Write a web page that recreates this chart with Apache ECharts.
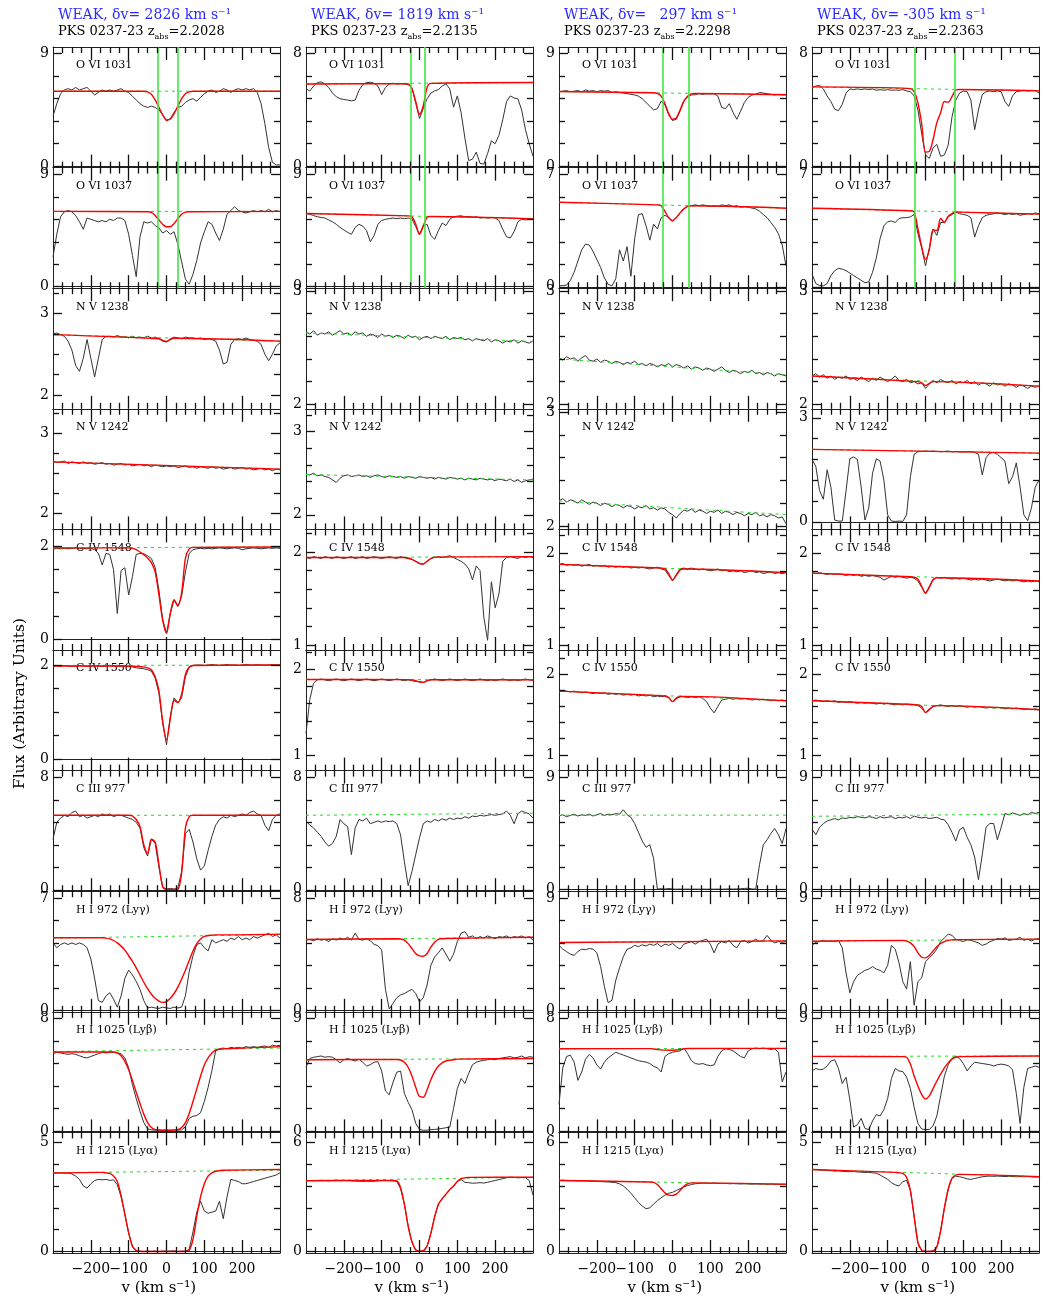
<!DOCTYPE html>
<html>
<head>
<meta charset="utf-8">
<script src="https://cdn.jsdelivr.net/npm/echarts@6/dist/echarts.min.js"></script>
<style>
  html, body { margin: 0; background: #fff; }
  #main { width: 1063px; height: 1315px; }
</style>
</head>
<body>
<div id="main"></div>
<script>
// velocity grid (km/s)
var vel = [-300,-290,-280,-270,-260,-250,-240,-230,-220,-210,-200,-190,-180,-170,-160,-150,-140,-130,-120,-110,
  -100,-90,-80,-70,-60,-50,-40,-30,-20,-10,0,10,20,30,40,50,60,70,80,90,100,
  110,120,130,140,150,160,170,180,190,200,210,220,230,240,250,260,270,280,290,300];

var lineNames = ['O VI 1031', 'O VI 1037', 'N V 1238', 'N V 1242', 'C IV 1548', 'C IV 1550',
  'C III 977', 'H I 972 (Lyγ)', 'H I 1025 (Lyβ)', 'H I 1215 (Lyα)'];
var deltaV = ['2826', '1819', '  297', '-305'];
var zAbs = ['2.2028', '2.2135', '2.2298', '2.2363'];
var cutLines = [[-24, 29], [-22, 15], [-25, 42], [-29, 78]];
var xMinorTicks = [-275,-250,-225,-175,-150,-125,-75,-50,-25,25,50,75,125,150,175,225,250,275];
var xMajorTicks = [-200,-100,0,100,200];

// ---------- column 1 : z = 2.2028 ----------
var c1_o6a = [4.0,5.0,5.8,6.1,6.2,6.1,6.3,6.1,6.2,6.3, 6.0,5.7,5.9,6.1,6.0,6.1,6.0,6.1,6.2,6.0,
  5.9,5.6,5.3,5.0,4.8,4.7,4.8,4.7,4.5,4.1, 3.6, 3.8,4.3,4.7,4.8,5.1,5.3,5.4,5.2,5.5,5.8,
  6.0,6.1,5.9,6.0,6.2,6.1,5.9,6.1,6.2,6.1, 6.2,6.1,6.2,5.9,5.0,3.4,1.5,0.3,0.1,0.1];
var c1_o6b = [2.4,4.2,5.6,6.0,6.1,6.0,5.7,5.2,4.6,5.5, 5.4,5.3,5.2,5.3,5.2,5.4,5.3,5.5,5.5,5.3,
  4.2,2.5,0.8,4.0,5.2,5.1,5.2,4.9,4.7,4.3, 4.5, 4.2,4.4,3.4,2.0,0.6,0.2,1.0,2.1,3.5,4.4,
  5.2,5.0,4.3,3.7,4.6,5.8,6.1,6.4,6.1,6.0, 5.9,6.0,6.1,6.0,6.1,6.0,6.2,6.0,6.1,6.0];
var c1_n5a = [2.75,2.76,2.74,2.72,2.66,2.55,2.36,2.29,2.45,2.68, 2.45,2.22,2.45,2.68,2.72,2.72,2.71,2.73,2.71,2.72,
  2.70,2.72,2.70,2.71,2.70,2.72,2.70,2.71,2.69,2.66, 2.65, 2.69,2.71,2.70,2.69,2.71,2.70,2.70,2.69,2.70,2.68,
  2.69,2.68,2.66,2.55,2.38,2.40,2.62,2.68,2.69,2.68, 2.70,2.68,2.67,2.66,2.62,2.50,2.42,2.50,2.60,2.64];
var c1_n5b = [2.65,2.63,2.64,2.65,2.62,2.64,2.63,2.62,2.64,2.62, 2.63,2.61,2.62,2.63,2.61,2.62,2.60,2.61,2.62,2.60,
  2.61,2.59,2.60,2.61,2.59,2.60,2.58,2.60,2.59,2.58, 2.59, 2.58,2.59,2.57,2.58,2.59,2.57,2.58,2.56,2.58,2.57,
  2.56,2.58,2.56,2.57,2.55,2.56,2.57,2.55,2.56,2.57, 2.55,2.56,2.54,2.55,2.56,2.54,2.55,2.53,2.55,2.54];
var c1_c4a = [1.94,1.96,1.95,1.96,1.95,1.96,1.97,1.95,1.96,1.95, 1.96,1.93,1.85,1.6,1.85,1.83,1.5,0.55,1.48,1.54,
  0.95,1.35,1.83,1.85,1.84,1.8,1.74,1.55,1.05,0.42, 0.12, 0.55,0.84,0.7,0.92,1.45,1.85,1.93,1.95,1.96,1.95,
  1.96,1.95,1.96,1.97,1.96,1.95,1.96,1.97,1.96,1.93, 1.95,1.96,1.97,1.96,1.95,1.96,1.97,1.96,1.97,1.96];
var c1_c4b = [1.98,1.99,1.98,1.99,1.98,1.97,1.98,1.99,1.98,1.97, 1.98,1.99,1.98,1.97,1.98,1.99,1.98,1.97,1.98,1.97,
  1.97,1.96,1.94,1.93,1.92,1.9,1.87,1.72,1.4,0.75, 0.3, 0.9,1.3,1.2,1.3,1.75,1.95,1.99,2.0,2.0,1.99,
  2.0,2.01,2.0,1.99,2.0,2.01,2.0,2.0,1.99,2.0, 2.01,2.0,2.0,2.01,2.0,1.99,2.0,2.01,2.0,2.0];
var c1_c3 = [3.6,4.8,5.1,5.3,5.2,5.5,5.6,5.2,5.3,5.1, 5.2,5.3,5.2,5.4,5.3,5.4,5.2,5.3,5.3,5.2,
  5.1,5.0,4.8,4.4,3.0,2.4,3.6,3.3,1.6,0.2, 0.05, 0.1,0.05,0.12,1.3,4.0,4.3,3.4,2.2,1.4,1.7,
  2.8,3.8,4.6,5.0,5.2,5.1,5.3,5.2,5.3,5.4, 5.3,5.5,5.6,5.4,5.3,4.6,4.2,5.0,5.3,5.4];
var c1_lyg = [4.2,3.9,4.1,4.2,4.1,4.2,4.1,4.2,4.1,3.9, 3.2,2.0,0.6,0.5,0.9,1.1,0.7,0.2,0.9,2.0,
  2.5,2.2,1.8,1.3,0.6,0.15,0.2,0.15,0.12,0.2, 0.15, 0.12,0.2,0.15,0.2,0.9,2.4,3.4,4.1,4.2,3.9,
  3.7,4.4,4.2,4.3,4.4,4.3,4.5,4.4,4.6,4.4, 4.5,4.4,4.6,4.5,4.6,4.7,4.8,4.6,4.7,4.5];
var c1_lyb = [5.5,5.6,5.55,5.5,5.45,5.5,5.45,5.35,5.25,5.2, 5.3,5.4,5.5,5.6,5.55,5.6,5.6,5.55,5.5,5.2,
  4.5,3.3,2.3,1.4,0.6,0.15,0.08,0.06,0.08,0.05, 0.07, 0.05,0.08,0.06,0.08,0.3,0.9,1.05,1.1,1.3,2.1,
  3.1,4.3,5.7,5.85,5.9,5.85,5.95,5.9,5.95,5.9, 6.0,5.95,6.0,5.95,6.0,6.05,5.95,6.1,6.05,6.1];
var c1_lya = [3.6,3.59,3.6,3.58,3.59,3.55,3.45,3.3,3.0,2.9, 3.1,3.25,3.3,3.28,3.3,3.25,3.28,3.05,2.5,1.7,
  0.85,0.2,0.02,0.01,0.0,0.02,0.01,0.02,0.0,0.02, 0.01, 0.02,0.03,0.0,0.02,0.01,0.1,0.9,1.8,2.3,1.85,
  1.75,1.8,1.85,2.3,1.5,2.5,3.3,3.25,3.2,3.1, 3.1,3.15,3.2,3.25,3.3,3.35,3.4,3.45,3.5,3.6];

var c1_o6a_fit = [6.0,5.95,5.75,5.3,4.7,4.1,3.7,3.75,4.2,4.8,5.4,5.8,5.95,6.0];
var c1_o6b_fit = [6.0,5.95,5.7,5.35,5.0,4.8,4.8,5.05,5.45,5.8,5.97,6.0];
var c1_n5a_fit = [2.69,2.67,2.655,2.68,2.695];
var c1_c4a_fit = [1.97,1.96,1.93,1.88,1.82,1.75,1.65,1.45,0.95,0.4,0.12,0.55,0.85,0.72,1.0,1.75,1.95,1.98];
var c1_c4b_fit = [1.98,1.975,1.97,1.965,1.96,1.94,1.9,1.75,1.45,0.8,0.4,0.85,1.25,1.2,1.38,1.8,1.96,1.99];
var c1_c3_fit = [5.3,5.25,5.0,4.5,3.2,2.6,3.6,3.4,1.8,0.2,0.03,0.02,0.02,0.03,1.2,4.4,5.2,5.3];
var c1_lyg_fit = [4.52,4.5,4.45,4.35,4.2,4.0,3.75,3.4,3.05,2.65,2.2,1.75,1.35,1.0,0.75,0.58,0.5,0.55,
  0.75,1.05,1.45,1.95,2.5,3.1,3.7,4.15,4.45,4.6,4.66,4.68,4.7,4.7];
var c1_lyb_fit = [5.62,5.55,5.35,4.95,4.35,3.6,2.75,1.95,1.2,0.6,0.25,0.1,0.06,0.05,0.05,0.05,0.06,0.1,
  0.25,0.6,1.25,2.1,3.0,3.9,4.7,5.2,5.55,5.75,5.82];
var c1_lya_fit = [3.62,3.6,3.57,3.45,3.2,2.55,1.7,0.85,0.25,0.04,0.01,0,0,0,0,0,0,0,0,0,0,0,0,
  0.05,0.55,1.6,2.5,3.1,3.45,3.6,3.67,3.7,3.72];

// ---------- column 2 : z = 2.2135 ----------
var c2_o6a = [5.5,5.35,5.7,5.95,6.0,5.85,5.6,5.2,4.95,4.8, 4.75,4.7,4.65,4.7,5.4,5.8,5.95,5.97,5.9,5.7,
  5.1,5.6,5.85,5.9,5.85,5.87,5.86,5.8,5.6,4.5, 3.4, 4.1,4.8,5.2,5.35,5.45,5.7,5.85,5.5,4.2,5.0,
  3.8,2.0,0.4,0.5,1.0,0.2,0.15,0.9,1.8,1.6, 2.2,3.3,4.6,5.0,4.85,4.8,4.0,2.6,1.6,0.7];
var c2_o6b = [5.86,5.8,5.7,5.6,5.55,5.5,5.35,5.2,5.0,4.75, 4.55,4.35,4.2,4.75,5.0,4.85,4.5,3.6,4.1,5.0,
  5.3,5.4,5.45,5.5,5.45,5.5,5.45,5.5,5.45,4.8, 4.2, 4.9,5.0,4.1,3.8,4.5,5.1,4.9,5.4,5.6,5.65,
  5.68,5.6,5.62,5.55,5.6,5.5,5.55,5.5,5.55,5.5, 5.3,4.6,4.0,3.9,4.4,5.2,5.4,5.35,5.4,5.45];
var c2_n5a = [2.64,2.62,2.65,2.61,2.63,2.62,2.64,2.61,2.63,2.65, 2.62,2.63,2.61,2.64,2.62,2.63,2.60,2.62,2.61,2.59,
  2.62,2.60,2.61,2.59,2.61,2.60,2.58,2.61,2.59,2.60, 2.57, 2.59,2.60,2.58,2.60,2.59,2.58,2.60,2.57,2.59,2.58,
  2.59,2.57,2.58,2.56,2.58,2.57,2.56,2.58,2.55,2.57, 2.56,2.54,2.56,2.55,2.57,2.54,2.56,2.55,2.54,2.56];
var c2_n5b = [2.49,2.48,2.50,2.47,2.48,2.46,2.45,2.42,2.39,2.44, 2.47,2.48,2.46,2.47,2.48,2.46,2.47,2.45,2.47,2.48,
  2.46,2.45,2.47,2.46,2.45,2.46,2.44,2.46,2.45,2.44, 2.46, 2.45,2.44,2.45,2.43,2.45,2.44,2.43,2.45,2.44,2.43,
  2.44,2.42,2.44,2.43,2.42,2.44,2.43,2.42,2.43,2.41, 2.43,2.42,2.41,2.43,2.40,2.42,2.39,2.41,2.42,2.43];
var c2_c4a = [1.94,1.93,1.95,1.94,1.93,1.95,1.94,1.93,1.95,1.94, 1.93,1.94,1.95,1.93,1.94,1.95,1.93,1.94,1.95,1.94,
  1.93,1.94,1.95,1.94,1.93,1.95,1.94,1.93,1.92,1.9, 1.88, 1.87,1.9,1.93,1.94,1.95,1.94,1.95,1.96,1.94,1.92,
  1.9,1.87,1.82,1.7,1.85,1.8,1.3,1.05,1.68,1.4, 1.55,1.9,1.94,1.95,1.94,1.93,1.95,1.94,1.95,1.94];
var c2_c4b = [1.25,1.65,1.84,1.88,1.89,1.88,1.87,1.88,1.89,1.88, 1.87,1.88,1.89,1.88,1.87,1.88,1.89,1.88,1.87,1.88,
  1.89,1.88,1.87,1.88,1.89,1.88,1.87,1.88,1.87,1.86, 1.86, 1.85,1.87,1.88,1.89,1.88,1.87,1.88,1.89,1.88,1.87,
  1.88,1.89,1.88,1.87,1.88,1.89,1.88,1.87,1.88,1.87, 1.88,1.89,1.88,1.87,1.88,1.87,1.88,1.89,1.88,1.87];
var c2_c3 = [4.9,4.6,4.4,4.1,3.8,3.4,3.1,3.3,3.8,5.0, 4.7,4.5,2.5,4.4,5.0,4.9,5.1,4.7,4.8,4.9,
  4.8,4.9,4.85,4.9,4.7,3.9,2.0,0.3,1.3,2.5, 3.7, 4.7,4.9,4.8,5.0,4.9,5.05,4.95,5.1,5.0,5.1,
  5.05,5.2,5.1,5.25,5.2,5.3,5.25,5.3,5.35,5.3, 5.35,5.4,5.6,5.3,4.7,5.4,5.6,5.5,5.4,5.1];
var c2_lyg = [5.0,5.05,4.95,5.1,5.0,5.05,4.9,5.1,5.0,5.15, 5.05,5.2,5.0,5.5,5.05,5.0,5.1,4.95,4.7,4.6,
  4.3,1.5,0.1,0.5,0.9,1.1,1.2,1.35,1.5,1.2, 0.6, 0.9,1.8,3.2,3.8,4.1,4.45,4.0,3.5,4.0,4.9,
  5.5,5.6,5.2,5.3,5.1,5.25,5.15,5.3,5.2,5.1, 5.25,5.2,5.3,5.15,5.25,5.2,5.3,5.15,5.25,5.0];
var c2_lyb = [5.1,5.8,5.9,5.95,6.0,5.9,5.95,5.9,5.7,5.45, 5.7,5.8,5.7,5.6,5.75,5.5,5.2,5.3,5.5,5.55,
  4.8,3.2,2.9,3.9,4.7,4.8,3.0,2.3,1.7,0.6, 0.12, 0.05,0.06,0.1,0.12,0.15,0.2,0.25,0.3,1.8,3.4,
  4.2,3.8,4.6,5.3,5.5,5.6,5.65,5.7,5.75,5.7, 5.8,5.85,5.9,5.95,5.85,5.9,6.0,5.85,5.95,5.9];
var c2_lya = [3.88,3.9,3.89,3.9,3.91,3.9,3.89,3.9,3.92,3.9, 3.91,3.9,3.88,3.87,3.86,3.85,3.86,3.85,3.86,3.88,
  3.9,3.9,3.89,3.88,3.85,3.45,2.6,1.4,0.5,0.08, 0.02, 0.05,0.3,1.0,1.9,2.6,2.9,3.15,3.4,3.6,3.85,
  3.95,3.8,3.78,3.75,3.76,3.78,3.76,3.8,3.85,3.9, 3.95,4.0,4.05,4.08,4.07,4.05,4.06,4.05,3.9,3.1];

var c2_o6a_fit = [5.87,5.86,5.5,4.6,3.7,4.3,5.6,5.89];
var c2_o6b_fit = [5.67,5.6,5.0,4.2,4.85,5.55,5.62];
var c2_c4a_fit = [1.94,1.935,1.92,1.9,1.875,1.87,1.9,1.93,1.945];
var c2_c4b_fit = [1.883,1.88,1.87,1.855,1.85,1.87,1.882];
var c2_lyg_fit = [5.1,5.08,5.0,4.75,4.4,4.05,3.88,3.85,4.05,4.5,4.85,5.05,5.1,5.12];
var c2_lyb_fit = [5.72,5.68,5.5,5.1,4.4,3.5,2.75,2.7,3.3,4.1,4.75,5.2,5.45,5.6,5.66,5.7,5.75];
var c2_lya_fit = [3.9,3.88,3.5,2.6,1.4,0.55,0.1,0.01,0.03,0.3,1.0,1.9,2.6,2.9,3.15,3.4,3.6,3.85,4.0,4.05,4.07];

// ---------- column 3 : z = 2.2298 ----------
var c3_o6a = [5.95,6.0,6.05,5.95,6.0,6.05,5.95,6.1,6.0,6.05, 5.95,6.05,6.0,6.05,5.9,5.95,5.9,5.85,5.8,5.75,
  5.7,5.6,5.4,5.1,4.8,4.5,4.6,5.2,4.9,4.1, 3.65, 3.75,4.4,5.2,5.55,5.7,5.72,5.8,5.75,5.8,5.78,
  5.8,5.6,4.7,4.6,5.0,4.3,3.75,4.4,5.1,5.5, 5.7,5.75,5.9,5.85,5.8,5.75,5.7,5.75,5.7,5.72];
var c3_o6b = [0.05,0.08,0.1,0.4,0.9,1.6,2.3,2.65,2.6,2.2, 1.7,1.2,0.55,0.15,0.05,0.5,2.3,1.6,2.5,0.65,
  3.0,4.5,4.55,3.8,2.9,3.9,3.6,4.3,4.45,4.3, 4.1, 4.3,4.6,4.85,5.0,5.05,5.1,5.05,5.1,5.05,5.0,
  5.05,5.0,5.1,5.05,5.1,5.0,5.05,4.95,5.0,4.95, 4.9,4.85,4.7,4.5,4.3,4.0,3.7,3.3,2.6,1.3];
var c3_n5a = [2.41,2.39,2.42,2.40,2.41,2.38,2.41,2.43,2.39,2.38, 2.40,2.37,2.39,2.38,2.36,2.38,2.37,2.35,2.37,2.36,
  2.38,2.35,2.36,2.34,2.36,2.35,2.33,2.35,2.34,2.36, 2.33, 2.35,2.34,2.32,2.34,2.31,2.33,2.32,2.30,2.32,2.31,
  2.29,2.31,2.33,2.30,2.28,2.30,2.29,2.27,2.29,2.28, 2.30,2.27,2.28,2.26,2.28,2.27,2.25,2.27,2.26,2.25];
var c3_n5b = [2.22,2.24,2.21,2.23,2.22,2.20,2.23,2.21,2.19,2.21, 2.20,2.18,2.20,2.19,2.17,2.19,2.18,2.16,2.18,2.17,
  2.15,2.17,2.16,2.18,2.15,2.16,2.14,2.16,2.15,2.12, 2.10, 2.07,2.11,2.14,2.13,2.15,2.12,2.14,2.13,2.11,2.13,
  2.12,2.14,2.11,2.13,2.12,2.10,2.12,2.11,2.09,2.11, 2.10,2.12,2.09,2.10,2.08,2.10,2.09,2.07,2.08,2.02];
var c3_c4a = [1.88,1.89,1.87,1.88,1.87,1.88,1.86,1.87,1.88,1.86, 1.87,1.86,1.87,1.85,1.86,1.85,1.86,1.85,1.86,1.84,
  1.85,1.84,1.85,1.84,1.83,1.84,1.85,1.83,1.82,1.76, 1.70, 1.77,1.83,1.84,1.83,1.84,1.83,1.82,1.83,1.82,1.81,
  1.82,1.83,1.81,1.82,1.80,1.81,1.80,1.81,1.79,1.80, 1.81,1.79,1.80,1.78,1.79,1.80,1.78,1.79,1.78,1.79];
var c3_c4b = [1.79,1.80,1.79,1.78,1.79,1.78,1.77,1.78,1.77,1.76, 1.77,1.76,1.77,1.75,1.76,1.75,1.76,1.74,1.75,1.74,
  1.75,1.73,1.74,1.73,1.74,1.72,1.73,1.72,1.73,1.71, 1.66, 1.71,1.73,1.72,1.71,1.72,1.71,1.72,1.70,1.66,1.58,
  1.52,1.6,1.68,1.69,1.70,1.69,1.70,1.69,1.70,1.69, 1.68,1.69,1.68,1.69,1.68,1.67,1.68,1.67,1.68,1.67];
var c3_c3 = [5.9,6.0,5.85,5.95,6.05,5.9,6.0,5.95,6.05,5.9, 6.0,6.1,5.95,6.05,6.0,6.1,6.05,6.4,6.0,5.8,
  5.3,4.6,3.9,3.4,3.6,2.5,0.05,0.08,0.05,0.1, 0.05, 0.04,0.05,0.04,0.05,0.04,0.05,0.04,0.05,0.04,0.05,
  0.04,0.05,0.04,0.05,0.06,0.05,0.06,0.07,0.1,0.12, 0.06,0.05,2.0,3.6,4.0,4.5,4.9,4.4,3.7,4.9];
var c3_lyg = [5.2,4.9,4.7,4.5,4.4,4.7,4.9,4.85,4.95,4.9, 4.6,3.5,1.9,0.6,0.8,2.4,3.4,4.3,4.9,5.0,
  5.2,5.1,5.25,5.15,5.3,5.2,5.35,5.1,5.3,5.2, 5.35, 5.1,4.9,5.3,5.4,5.5,5.3,5.5,5.6,5.7,5.3,
  4.6,5.3,5.5,5.4,5.6,5.2,5.0,5.5,5.6,5.4, 5.5,5.7,5.5,5.6,6.0,5.6,5.4,5.5,5.45,5.5];
var c3_lyb = [1.9,4.5,5.3,5.4,4.9,3.6,4.2,5.1,5.45,5.2, 4.7,4.4,4.9,5.2,5.4,5.6,5.5,5.4,5.3,5.2,
  5.1,5.0,4.95,4.9,4.8,4.6,4.5,4.2,5.3,5.5, 5.6, 5.65,5.7,5.9,5.5,5.0,4.8,4.75,4.8,4.7,4.65,
  4.7,5.3,5.7,5.85,5.8,5.7,5.5,5.3,5.2,5.7, 5.85,5.9,5.85,5.9,5.85,5.8,5.85,5.6,3.5,4.2];
var c3_lya = [3.9,3.92,3.9,3.89,3.9,3.88,3.89,3.88,3.87,3.86, 3.85,3.84,3.83,3.82,3.8,3.78,3.72,3.6,3.42,3.2,
  2.95,2.7,2.5,2.35,2.4,2.6,2.8,2.95,3.1,3.2, 3.25, 3.35,3.45,3.55,3.62,3.68,3.72,3.74,3.76,3.75,3.74,
  3.76,3.74,3.73,3.74,3.72,3.73,3.72,3.71,3.72,3.71, 3.70,3.71,3.70,3.70,3.69,3.70,3.69,3.68,3.69,3.68];

var c3_o6a_fit = [5.87,5.82,5.6,5.0,4.2,3.75,3.85,4.5,5.2,5.6,5.78,5.82];
var c3_o6b_fit = [5.1,5.05,4.7,4.3,4.12,4.3,4.6,4.85,5.0,5.04];
var c3_c4a_fit = [1.84,1.835,1.78,1.71,1.76,1.82,1.83];
var c3_c4b_fit = [1.735,1.73,1.71,1.66,1.7,1.72,1.725];
var c3_lyb_fit = [5.86,5.83,5.8,5.77,5.75,5.74,5.74,5.76,5.8,5.84,5.865];
var c3_lya_fit = [3.82,3.8,3.68,3.45,3.22,3.1,3.08,3.15,3.35,3.58,3.72,3.77];

// ---------- column 4 : z = 2.2363 ----------
var c4_o6a = [5.6,5.7,5.75,5.5,5.0,4.6,4.05,3.95,4.4,5.2, 5.5,5.45,5.5,5.45,5.5,5.45,5.5,5.4,5.45,5.4,
  5.45,5.4,5.42,5.4,5.45,5.35,5.3,5.0,4.0,2.3, 0.8, 0.55,1.3,1.55,0.7,0.8,1.5,3.5,4.7,5.2,5.35,
  5.3,4.7,2.6,4.0,5.1,5.3,5.35,5.3,5.35,5.3, 4.6,4.25,5.0,5.3,5.35,5.4,5.35,5.4,5.38,5.2];
var c4_o6b = [0.8,0.2,0.08,0.05,0.2,0.7,1.0,1.15,1.1,1.0, 0.85,0.7,0.55,0.4,0.25,0.3,0.9,1.8,3.0,3.8,
  4.05,4.1,4.0,4.25,4.3,4.3,4.35,4.5,3.3,2.4, 1.3, 2.4,3.6,3.2,4.0,4.0,4.35,4.5,4.65,4.55,4.5,
  4.45,4.3,3.1,3.8,4.3,4.45,4.5,4.55,4.6,4.55, 4.5,4.55,4.5,4.55,4.45,4.5,4.55,4.5,4.6,4.55];
var c4_n5a = [2.25,2.27,2.24,2.26,2.23,2.25,2.22,2.24,2.23,2.25, 2.22,2.23,2.21,2.24,2.22,2.20,2.23,2.21,2.24,2.22,
  2.20,2.22,2.25,2.21,2.20,2.22,2.19,2.20,2.18,2.19, 2.14, 2.18,2.21,2.19,2.22,2.20,2.19,2.21,2.18,2.20,2.19,
  2.21,2.18,2.20,2.17,2.19,2.18,2.16,2.19,2.17,2.18, 2.16,2.18,2.17,2.15,2.17,2.16,2.14,2.16,2.15,2.16];
var c4_n5b = [1.8,1.6,0.9,0.65,1.5,1.0,0.05,0.02,0.02,0.9, 1.82,1.87,1.8,1.0,0.05,0.4,1.4,1.82,1.75,1.2,
  0.2,0.02,0.01,0.02,0.01,0.2,1.3,1.95,2.02,2.03, 2.04, 2.03,2.04,2.03,2.02,2.03,2.04,2.02,2.03,2.02,2.01,
  2.03,2.02,2.0,1.95,1.35,1.85,1.98,2.0,1.95,1.85, 1.75,1.1,1.3,1.7,1.0,0.2,0.03,0.4,1.0,1.2];
var c4_c4a = [1.79,1.78,1.79,1.78,1.77,1.78,1.77,1.78,1.77,1.76, 1.77,1.76,1.77,1.75,1.76,1.75,1.76,1.75,1.74,1.71,
  1.73,1.75,1.74,1.75,1.74,1.73,1.74,1.73,1.70,1.63, 1.56, 1.64,1.72,1.74,1.73,1.74,1.73,1.72,1.73,1.72,1.73,
  1.72,1.71,1.72,1.71,1.72,1.71,1.70,1.71,1.72,1.71, 1.70,1.71,1.70,1.71,1.70,1.69,1.70,1.69,1.70,1.69];
var c4_c4b = [1.67,1.68,1.67,1.66,1.67,1.66,1.67,1.65,1.66,1.65, 1.66,1.65,1.64,1.65,1.64,1.65,1.64,1.63,1.64,1.63,
  1.64,1.63,1.62,1.63,1.62,1.63,1.62,1.62,1.61,1.58, 1.52, 1.57,1.6,1.61,1.62,1.61,1.60,1.61,1.60,1.61,1.60,
  1.59,1.60,1.59,1.60,1.59,1.58,1.59,1.58,1.59,1.58, 1.57,1.58,1.57,1.58,1.57,1.56,1.57,1.56,1.57,1.56];
var c4_c3 = [4.85,4.4,5.0,5.3,5.5,5.6,5.7,5.6,5.75,5.7, 5.8,5.75,5.85,5.8,5.75,5.85,5.8,5.7,5.85,5.75,
  5.8,5.85,5.7,5.8,5.75,5.85,5.7,5.9,5.8,5.75, 5.8, 5.7,5.75,5.8,5.65,5.6,5.2,4.6,3.9,4.8,5.0,
  4.2,3.6,2.6,0.8,2.8,5.0,5.3,5.3,4.0,5.0, 6.1,6.0,6.15,6.05,5.95,6.1,6.0,6.2,6.1,6.2];
var c4_lyg = [5.2,5.45,5.5,5.6,5.5,5.55,5.5,5.6,5.0,3.0, 1.4,2.3,2.8,3.0,3.2,3.3,3.5,3.3,3.2,3.0,
  3.6,5.2,4.9,3.8,2.3,1.7,3.9,0.4,2.3,2.6, 3.9, 4.2,4.5,4.9,5.5,5.8,6.1,6.0,5.7,5.6,5.5,
  5.65,5.6,5.5,5.4,5.2,5.3,5.5,5.6,5.75,5.7, 5.8,5.6,5.65,5.7,5.85,5.6,5.7,5.55,5.7,5.75];
var c4_lyb = [4.8,5.0,4.9,4.95,5.2,5.6,5.7,5.0,3.8,4.3, 2.5,0.3,0.5,1.0,0.2,0.1,0.8,1.3,1.2,1.7,
  2.6,4.2,5.0,4.8,4.75,4.3,3.4,1.9,0.6,0.15, 0.1, 0.12,0.4,1.2,2.8,4.4,5.3,5.8,6.0,5.8,5.4,
  4.8,5.2,5.5,5.45,5.4,5.35,5.3,5.2,5.3,5.35, 5.3,5.2,4.9,3.0,0.6,3.5,5.0,5.1,5.2,5.1];
var c4_lya = [3.75,3.74,3.73,3.72,3.7,3.7,3.68,3.69,3.67,3.66, 3.65,3.66,3.64,3.63,3.62,3.62,3.6,3.58,3.5,3.4,
  3.3,3.15,3.05,3.0,3.2,3.25,2.8,1.6,0.4,0.05, 0.0, 0.01,0.03,0.2,0.95,2.0,2.85,3.35,3.45,3.42,3.38,
  3.32,3.3,3.34,3.38,3.42,3.44,3.45,3.44,3.45,3.44, 3.43,3.44,3.43,3.42,3.43,3.42,3.43,3.42,3.41,3.42];

var c4_o6a_fit = [5.52,5.3,4.5,3.0,1.0,1.05,1.9,3.1,3.8,4.6,4.55,4.95,5.42,5.46];
var c4_o6b_fit = [4.73,4.65,3.6,2.5,1.7,2.3,3.55,3.5,4.25,4.0,4.4,4.55,4.66,4.65];
var c4_n5a_fit = [2.2,2.19,2.165,2.185,2.2];
var c4_c4a_fit = [1.745,1.74,1.72,1.64,1.57,1.63,1.71,1.735];
var c4_c4b_fit = [1.62,1.6,1.525,1.56,1.6,1.61];
var c4_lyg_fit = [5.6,5.55,5.4,5.1,4.6,4.25,4.2,4.4,4.75,5.1,5.35,5.5,5.6,5.64,5.65,5.66];
var c4_lyb_fit = [5.95,5.9,5.35,4.4,3.6,2.9,2.55,2.8,3.4,4.0,4.55,5.05,5.45,5.75,5.9,5.95];
var c4_lya_fit = [3.62,3.6,3.57,3.4,2.8,1.6,0.4,0.05,0,0,0.02,0.2,0.95,2.0,2.85,3.35,3.5,3.53];

// panel table: col, row, flux, fit continuum ends, fit start v, fit values, green continuum ends, y min, y max, label lo, label hi, tick step
var panels = [
  [0,0,c1_o6a,[6.0,6.0],-60,c1_o6a_fit,[6.0,6.0],-0.12,9.54,0,9,1.8],
  [0,1,c1_o6b,[6.03,6.03],-50,c1_o6b_fit,[6.03,6.03],-0.12,9.54,0,9,1.8],
  [0,2,c1_n5a,[2.74,2.66],-20,c1_n5a_fit,[2.74,2.66],1.83,3.31,2,3,0.25],
  [0,3,c1_n5b,[2.64,2.55],null,[],[2.64,2.55],1.8,3.3,2,3,0.25],
  [0,4,c1_c4a,[1.97,1.99],-100,c1_c4a_fit,[1.97,1.99],-0.24,2.37,0,2,0.5],
  [0,5,c1_c4b,[1.98,2.0],-100,c1_c4b_fit,[1.99,2.0],-0.25,2.32,0,2,0.5],
  [0,6,c1_c3,[5.3,5.3],-100,c1_c3_fit,[5.3,5.3],-0.1,8.48,0,8,1.6],
  [0,7,c1_lyg,[4.52,4.75],-170,c1_lyg_fit,[4.5,4.72],-0.09,7.42,0,7,1.4],
  [0,8,c1_lyb,[5.62,6.0],-140,c1_lyb_fit,[5.65,5.9],-0.1,8.48,0,8,1.6],
  [0,9,c1_lya,[3.59,3.75],-170,c1_lya_fit,[3.6,3.72],-0.07,5.45,0,5,1],

  [1,0,c2_o6a,[5.85,5.95],-40,c2_o6a_fit,[5.85,5.95],-0.1,8.48,0,8,1.6],
  [1,1,c2_o6b,[5.86,5.43],-30,c2_o6b_fit,[5.86,5.43],-0.12,9.54,0,9,1.8],
  [1,2,c2_n5a,null,null,[],[2.63,2.555],1.96,3.025,2,3,0.2],
  [1,3,c2_n5b,null,null,[],[2.485,2.42],1.824,3.276,2,3,0.2],
  [1,4,c2_c4a,[1.94,1.95],-40,c2_c4a_fit,[1.94,1.95],0.946,2.243,1,2,0.2],
  [1,5,c2_c4b,[1.885,1.88],-30,c2_c4b_fit,[1.885,1.88],0.816,2.23,1,2,0.2],
  [1,6,c2_c3,null,null,[],[5.3,5.45],-0.1,8.48,0,8,1.6],
  [1,7,c2_lyg,[5.04,5.2],-60,c2_lyg_fit,[5.04,5.2],-0.1,8.48,0,8,1.6],
  [1,8,c2_lyb,[5.7,5.8],-60,c2_lyb_fit,[5.7,5.8],-0.12,9.54,0,9,1.8],
  [1,9,c2_lya,[3.89,4.08],-70,c2_lya_fit,[3.89,4.08],-0.08,6.54,0,6,1.2],

  [2,0,c3_o6a,[5.97,5.72],-50,c3_o6a_fit,[5.97,5.72],-0.12,9.54,0,9,1.8],
  [2,1,c3_o6b,[5.26,4.89],-40,c3_o6b_fit,[5.26,4.89],-0.09,7.42,0,7,1.4],
  [2,2,c3_n5a,null,null,[],[2.40,2.26],1.96,3.025,2,3,0.2],
  [2,3,c3_n5b,null,null,[],[2.22,2.1],1.97,3.03,2,3,0.2],
  [2,4,c3_c4a,[1.88,1.79],-30,c3_c4a_fit,[1.88,1.79],0.95,2.26,1,2,0.2],
  [2,5,c3_c4b,[1.79,1.67],-30,c3_c4b_fit,[1.79,1.67],0.805,2.3,1,2,0.2],
  [2,6,c3_c3,null,null,[],[5.97,5.97],-0.12,9.54,0,9,1.8],
  [2,7,c3_lyg,[5.43,5.56],null,[],[5.43,5.56],-0.12,9.54,0,9,1.8],
  [2,8,c3_lyb,[5.85,5.88],-60,c3_lyb_fit,[5.85,5.88],-0.1,8.48,0,8,1.6],
  [2,9,c3_lya,[3.9,3.69],-60,c3_lya_fit,[3.9,3.69],-0.08,6.54,0,6,1.2],

  [3,0,c4_o6a,[5.64,5.36],-40,c4_o6a_fit,[5.64,5.36],-0.1,8.48,0,8,1.6],
  [3,1,c4_o6b,[4.89,4.52],-40,c4_o6b_fit,[4.89,4.52],-0.09,7.42,0,7,1.4],
  [3,2,c4_n5a,[2.25,2.16],-20,c4_n5a_fit,[2.25,2.16],1.96,3.025,2,3,0.2],
  [3,3,c4_n5b,[2.09,1.98],null,[],[2.09,1.98],-0.22,3.26,0,3,0.6],
  [3,4,c4_c4a,[1.785,1.7],-40,c4_c4a_fit,[1.785,1.7],0.95,2.26,1,2,0.2],
  [3,5,c4_c4b,[1.67,1.56],-20,c4_c4b_fit,[1.67,1.56],0.805,2.3,1,2,0.2],
  [3,6,c4_c3,null,null,[],[5.88,6.07],-0.12,9.54,0,9,1.8],
  [3,7,c4_lyg,[5.53,5.7],-60,c4_lyg_fit,[5.53,5.7],-0.12,9.54,0,9,1.8],
  [3,8,c4_lyb,[5.97,6.0],-60,c4_lyb_fit,[5.97,6.0],-0.12,9.54,0,9,1.8],
  [3,9,c4_lya,[3.75,3.42],-80,c4_lya_fit,[3.75,3.42],-0.07,5.45,0,5,1]
];

var colLeft = [53, 306, 559, 812];
var plotW = 227, rowTop = 47, rowH = 120.6;
var serif = '"DejaVu Serif", "Liberation Serif", serif';
var frame = '#222';

function fmtNum(v) {
  if (v <= -300 || v >= 300) return '';
  return v < 0 ? '\u2212' + (-v) : String(v);
}

var grids = [], xAxes = [], yAxes = [], series = [], graphics = [];

panels.forEach(function (p, k) {
  var col = p[0], row = p[1], flux = p[2], fitCont = p[3], fitFrom = p[4], fitVals = p[5],
      green = p[6], ymin = p[7], ymax = p[8], lo = p[9], hi = p[10], step = p[11];
  var top = rowTop + row * rowH;
  grids.push({ left: colLeft[col], top: top, width: plotW, height: rowH, outerBoundsMode: 'none' });

  var xBase = {
    gridIndex: k, type: 'value', min: -300, max: 300, interval: 100,
    axisLine: { show: true, onZero: false, lineStyle: { color: frame, width: 1 } },
    axisTick: { show: false },
    splitLine: { show: false }
  };
  xAxes.push(Object.assign({}, xBase, {
    position: 'bottom',
    axisLabel: {
      show: row === 9, formatter: fmtNum, showMinLabel: true, showMaxLabel: true,
      fontFamily: serif, fontSize: 14, color: '#000', margin: 9
    }
  }));
  xAxes.push(Object.assign({}, xBase, { position: 'top', axisLabel: { show: false } }));

  var yBase = {
    gridIndex: k, type: 'value', min: ymin, max: ymax,
    axisLine: { show: true, onZero: false, lineStyle: { color: frame, width: 1 } },
    axisTick: { show: false },
    splitLine: { show: false }
  };
  yAxes.push(Object.assign({}, yBase, {
    position: 'left',
    axisLabel: {
      show: true, customValues: [lo, hi], formatter: function (v) { return String(v); },
      fontFamily: serif, fontSize: 14, color: '#000', margin: 4
    }
  }));
  yAxes.push(Object.assign({}, yBase, { position: 'right', axisLabel: { show: false } }));

  // tick marks drawn inside the frame, converted from pixel lengths to data units
  var dyPx = (ymax - ymin) / rowH, dxPx = 600 / plotW;
  var tickMarks = [];
  function seg(x1, y1, x2, y2) { tickMarks.push([{ coord: [x1, y1] }, { coord: [x2, y2] }]); }
  xMajorTicks.forEach(function (x) { seg(x, ymin, x, ymin + 13 * dyPx); seg(x, ymax, x, ymax - 13 * dyPx); });
  xMinorTicks.forEach(function (x) { seg(x, ymin, x, ymin + 6 * dyPx); seg(x, ymax, x, ymax - 6 * dyPx); });
  var t0 = lo;
  while (t0 - step >= ymin - 1e-9) t0 -= step;
  for (var t = t0; t <= ymax + 1e-9; t += step) {
    var ty = Math.round(t * 1000) / 1000;
    var len = (Math.abs(ty - lo) < 1e-6 || Math.abs(ty - hi) < 1e-6) ? 9 : 6;
    seg(-300, ty, -300 + len * dxPx, ty);
    seg(300, ty, 300 - len * dxPx, ty);
  }

  var xi = 2 * k, yi = 2 * k;
  var marks = [];
  if (ymin < 0) marks.push({ yAxis: 0, lineStyle: { color: frame, width: 1, type: 'solid' } });
  if (row < 2) {
    cutLines[col].forEach(function (v) {
      marks.push({ xAxis: v, lineStyle: { color: '#3fe83f', width: 1.6, type: 'solid' } });
    });
  }

  series.push({
    type: 'line', xAxisIndex: xi, yAxisIndex: yi, z: 2,
    data: vel.map(function (v, i) { return [v, flux[i]]; }),
    symbol: 'none', lineStyle: { color: '#333', width: 1 }, silent: true,
    markLine: marks.length ? { symbol: 'none', silent: true, label: { show: false }, data: marks } : undefined
  });
  series.push({
    type: 'line', xAxisIndex: xi, yAxisIndex: yi, z: 3,
    data: [[-300, green[0]], [300, green[1]]],
    symbol: 'none', lineStyle: { color: '#22dd22', width: 1, type: [3, 4] }, silent: true,
    markLine: {
      symbol: 'none', silent: true, label: { show: false },
      lineStyle: { color: '#111', width: 1.3, type: 'solid' },
      data: tickMarks
    }
  });
  if (fitCont) {
    var fitData = [[-300, fitCont[0]]];
    fitVals.forEach(function (y, i) { fitData.push([fitFrom + 10 * i, y]); });
    fitData.push([300, fitCont[1]]);
    series.push({
      type: 'line', xAxisIndex: xi, yAxisIndex: yi, z: 4,
      data: fitData, smooth: 0.3,
      symbol: 'none', lineStyle: { color: '#ff0000', width: 1.4 }, silent: true
    });
  }

  graphics.push({
    type: 'text', left: colLeft[col] + 23, top: top + 13, silent: true,
    style: { text: lineNames[row], font: '11px ' + serif, fill: '#000' }
  });
});

for (var c = 0; c < 4; c++) {
  graphics.push({
    type: 'text', left: colLeft[c] + 5, top: 8, silent: true,
    style: { text: 'WEAK, \u03b4v= ' + deltaV[c] + ' km s\u207b\u00b9', font: '14px ' + serif, fill: '#2a2aff' }
  });
  graphics.push({
    type: 'text', left: colLeft[c] + 5, top: 25, silent: true,
    style: {
      text: '{a|PKS 0237-23 z}{b|abs}{a|=' + zAbs[c] + '}',
      rich: {
        a: { font: '13px ' + serif, fill: '#000', verticalAlign: 'middle' },
        b: { font: '8px ' + serif, fill: '#000', verticalAlign: 'middle', padding: [10, 0, 0, 0] }
      }
    }
  });
  graphics.push({
    type: 'text', left: colLeft[c] + plotW / 2 - 45, top: 1281, silent: true,
    style: { text: 'v (km s\u207b\u00b9)', font: '15px ' + serif, fill: '#000' }
  });
}
graphics.push({
  type: 'text', left: 12, top: 618, rotation: Math.PI / 2, silent: true,
  style: { text: 'Flux (Arbitrary Units)', font: '15.5px ' + serif, fill: '#000' }
});

var chart = echarts.init(document.getElementById('main'), null, { renderer: 'canvas' });
chart.setOption({
  animation: false,
  backgroundColor: '#fff',
  grid: grids,
  xAxis: xAxes,
  yAxis: yAxes,
  series: series,
  graphic: graphics
});
</script>
</body>
</html>
